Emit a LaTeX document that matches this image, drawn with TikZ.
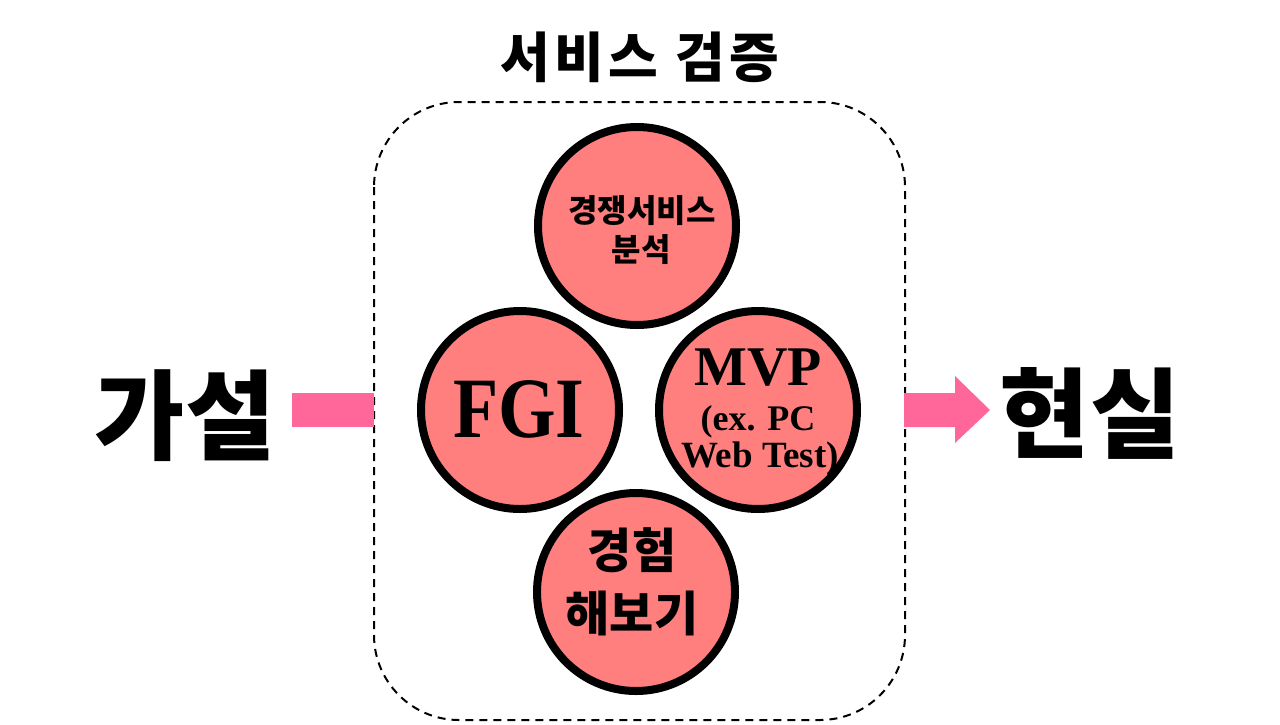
\documentclass[tikz,border=0pt]{standalone}
\usepackage{fontspec}
\setmainfont{Liberation Serif}
\newfontfamily\kr{Noto Sans CJK KR}
\definecolor{circfill}{HTML}{FF7F7F}
\definecolor{arrowpink}{HTML}{FF6699}
\tikzset{
  bubble/.style={circle, draw=black, line width=8pt, fill=circfill, minimum size=198pt, inner sep=0pt},
  krtext/.style={inner sep=0pt, font=\kr\bfseries},
  latin/.style={inner sep=0pt, anchor=base, font=\bfseries},
  groupbox/.style={draw=black, line width=2pt, dash pattern=on 8pt off 6pt, rounded corners=85pt},
}
\begin{document}
\begin{tikzpicture}[x=1pt,y=-1pt]
\useasboundingbox (0,0) rectangle (1280,724);
\fill[white] (0,0) rectangle (1280,724);

% group box
\draw[groupbox] (374,102) rectangle (905,720);
\node[krtext, font=\kr\bfseries\fontsize{54}{58}\selectfont\addfontfeatures{LetterSpace=8}] (title) at (640,57) {서비스 검증};

% side labels
\node[krtext, font=\kr\bfseries\fontsize{98}{102}\selectfont] (hyp) at (185,416) {가설};
\node[krtext, font=\kr\bfseries\fontsize{98}{102}\selectfont] (real) at (1090,413) {현실};

% arrows
\fill[arrowpink] (292,393) rectangle (374,427);
\fill[arrowpink] (904,393) -- (955,393) -- (955,376) -- (990,410) -- (955,443) -- (955,427) -- (904,427) -- cycle;

% circles
\node[bubble] (comp) at (637,226) {};
\node[bubble] (fgi) at (520,410) {};
\node[bubble] (mvp) at (758,410) {};
\node[bubble] (exp) at (636,592) {};

% circle texts
\node[krtext, font=\kr\bfseries\fontsize{32}{36}\selectfont] (comp1) at (642,211) {경쟁서비스};
\node[krtext, font=\kr\bfseries\fontsize{32}{36}\selectfont] (comp2) at (641,250) {분석};

\node[latin, font=\bfseries\fontsize{86}{90}\selectfont] (fgit) at (519,437) {\scalebox{0.86}[1]{FGI}};

\node[latin, font=\bfseries\fontsize{56}{60}\selectfont] (mvp1) at (758,385) {MVP};
\node[latin, font=\bfseries\fontsize{36}{40}\selectfont] (mvp2) at (758,430) {(ex. PC};
\node[latin, font=\bfseries\fontsize{37}{40}\selectfont] (mvp3) at (760,467) {Web Test)};

\node[krtext, font=\kr\bfseries\fontsize{48}{52}\selectfont] (exp1) at (632,550) {경험};
\node[krtext, font=\kr\bfseries\fontsize{48}{52}\selectfont] (exp2) at (632,613) {해보기};
\end{tikzpicture}
\end{document}
